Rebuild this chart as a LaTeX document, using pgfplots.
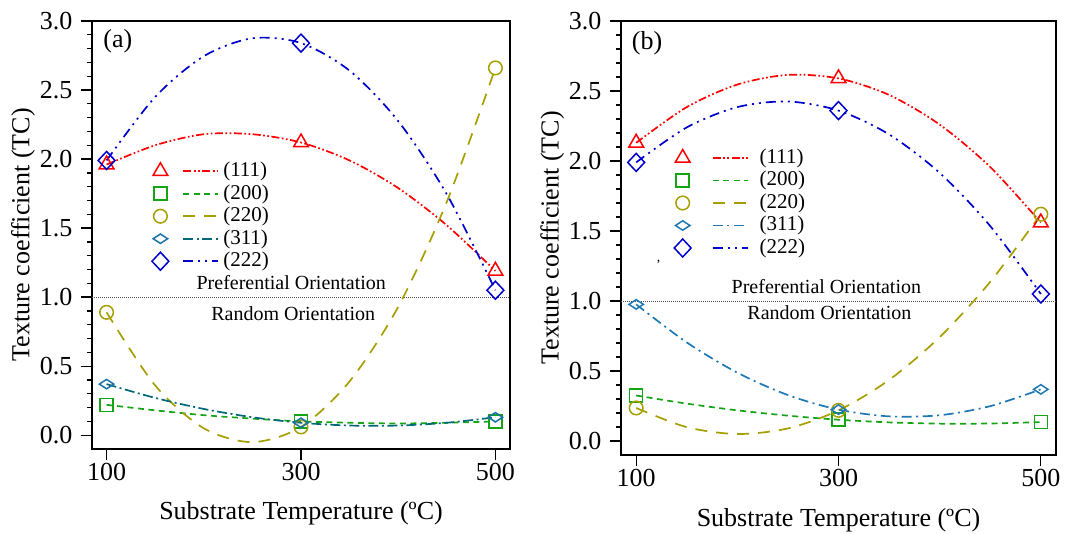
\documentclass[border=0pt]{standalone}
\usepackage{fontspec}
\setmainfont{Liberation Serif}
\usepackage{pgfplots}
\pgfplotsset{compat=1.18}

\definecolor{cRed}{RGB}{255,0,0}
\definecolor{cGreen}{RGB}{20,165,20}
\definecolor{cOlive}{RGB}{165,160,0}
\definecolor{cTealA}{RGB}{0,105,120}
\definecolor{cTealM}{RGB}{25,115,170}
\definecolor{cTealB}{RGB}{30,120,180}
\definecolor{cBlue}{RGB}{0,0,205}

\pgfplotsset{
  tcaxis/.style={
    scale only axis,
    xmin=85, xmax=515, ymin=-0.1, ymax=3.0,
    xtick={100,300,500},
    ytick={0,0.5,1,1.5,2,2.5,3},
    minor y tick num=4,
    tick align=outside,
    xtick pos=left, ytick pos=left,
    major tick length=11pt, minor tick length=5pt,
    every tick/.style={line width=1.3pt, black},
    axis line style={line width=1.5pt},
    /pgf/number format/assume math mode=true,
    ticklabel style={font=\fontsize{26}{30}\selectfont},
    yticklabel style={xshift=-5pt, /pgf/number format/.cd, fixed, fixed zerofill, precision=1},
    label style={font=\fontsize{26}{30}\selectfont},
    xlabel={Substrate Temperature (ºC)},
    ylabel={Texture coefficient (TC)},
    legend cell align=left,
    legend style={draw=none, fill=none, inner sep=0pt,
      font=\fontsize{21}{24}\selectfont, row sep=1.5pt,
      nodes={inner sep=0pt, text height=16pt, text depth=5pt}},
    every axis plot/.append style={line width=1.7pt},
  },
  s111/.style={color=cRed, smooth, mark=triangle, mark size=8.5pt, mark indices={1,5,9},
    mark options={solid, line width=1.5pt},
    dash pattern=on 8pt off 2.5pt on 1.7pt off 2.5pt on 1.7pt off 2.5pt},
  s200/.style={color=cGreen, smooth, mark=square, mark size=6.5pt, mark indices={1,5,9},
    mark options={solid, line width=1.5pt}, dash pattern=on 6pt off 4.5pt},
  s220/.style={color=cOlive, smooth, mark=o, mark size=6.8pt, mark indices={1,5,9},
    mark options={solid, line width=1.5pt}, dash pattern=on 12pt off 9pt},
  s222/.style={color=cBlue, smooth, mark=diamond, mark size=9pt, mark indices={1,5,9},
    mark options={solid, xscale=1.25, line width=1.5pt},
    dash pattern=on 10pt off 5pt on 2pt off 5pt on 2pt off 5pt},
}

\begin{document}
\begin{tikzpicture}
\path[use as bounding box] (0,0) rectangle (1071pt,533pt);

% ---------- (a) ----------
\begin{axis}[tcaxis,
  at={(92pt,84pt)}, anchor=south west,
  width=418pt, height=428pt,
  ylabel style={at={(axis description cs:-0.165,0.5)}, anchor=center},
  xlabel style={at={(axis description cs:0.5,-0.15)}, anchor=center},
  legend style={at={(rel axis cs:0.143,0.674)}, anchor=north west, column sep=4pt},
  legend image code/.code={
    \draw[#1] plot coordinates {(0pt,0pt)};
    \draw[#1, mark=none] (23pt,0pt) -- (58pt,0pt);
  },
]
\addplot[forget plot, line width=0.9pt, color=black!70, dash pattern=on 1pt off 1pt]
  coordinates {(85,1) (515,1)};

\addplot[s111] coordinates {(100,1.96)(150,2.10)(200,2.18)(250,2.18)(300,2.12)(350,1.99)(400,1.79)(450,1.52)(500,1.19)};
\addplot[s200] coordinates {(100,0.22)(150,0.18)(200,0.145)(250,0.12)(300,0.10)(350,0.09)(400,0.085)(450,0.09)(500,0.10)};
\addplot[s220] coordinates {(100,0.89)(150,0.36)(200,0.05)(250,-0.05)(300,0.06)(350,0.39)(400,0.93)(450,1.69)(500,2.66)};
\addplot[color=cTealA, smooth, mark=diamond, mark size=4.7pt, mark indices={1,5,9},
  mark options={solid, xscale=2.05, color=cTealM, line width=1.5pt},
  dash pattern=on 10pt off 3.5pt on 2pt off 3.5pt]
  coordinates {(100,0.37)(150,0.27)(200,0.19)(250,0.13)(300,0.09)(350,0.07)(400,0.07)(450,0.09)(500,0.13)};
\addplot[s222] coordinates {(100,1.99)(150,2.45)(200,2.745)(250,2.875)(300,2.84)(350,2.64)(400,2.275)(450,1.745)(500,1.05)};
\legend{(111),(200),(220),(311),(222)}

\node[font=\fontsize{26}{28}\selectfont] at (rel axis cs:0.062,0.953) {(a)};
\node[font=\fontsize{20}{22}\selectfont] at (axis cs:290,1.105) {Preferential Orientation};
\node[font=\fontsize{20}{22}\selectfont] at (axis cs:292,0.88) {Random Orientation};
\end{axis}

% ---------- (b) ----------
\begin{axis}[tcaxis,
  at={(621pt,78pt)}, anchor=south west,
  width=435pt, height=434pt,
  ylabel style={at={(axis description cs:-0.158,0.5)}, anchor=center},
  xlabel style={at={(axis description cs:0.5,-0.15)}, anchor=center},
  legend style={at={(rel axis cs:0.122,0.709)}, anchor=north west, column sep=11pt},
  legend image code/.code={
    \draw[#1] plot coordinates {(0pt,0pt)};
    \draw[#1, mark=none] (30pt,0pt) -- (65pt,0pt);
  },
]
\addplot[forget plot, line width=0.9pt, color=black!70, dash pattern=on 1pt off 1pt]
  coordinates {(85,1) (515,1)};

\addplot[s111] coordinates {(100,2.13)(150,2.385)(200,2.546)(250,2.615)(300,2.59)(350,2.472)(400,2.26)(450,1.957)(500,1.56)};
\addplot[s200] coordinates {(100,0.325)(150,0.267)(200,0.219)(250,0.181)(300,0.152)(350,0.133)(400,0.124)(450,0.125)(500,0.135)};
\addplot[s220] coordinates {(100,0.236)(150,0.099)(200,0.05)(250,0.09)(300,0.219)(350,0.436)(400,0.742)(450,1.137)(500,1.62)};
\addplot[color=cTealB, smooth, mark=diamond, mark size=4.7pt, mark indices={1,5,9},
  mark options={solid, xscale=2.05, line width=1.5pt},
  dash pattern=on 10pt off 4.5pt on 2pt off 4.5pt]
  coordinates {(100,0.976)(150,0.704)(200,0.488)(250,0.328)(300,0.224)(350,0.176)(400,0.184)(450,0.249)(500,0.369)};
\addplot[s222] coordinates {(100,1.99)(150,2.24)(200,2.385)(250,2.425)(300,2.36)(350,2.19)(400,1.915)(450,1.535)(500,1.05)};
\legend{(111),(200),(220),(311),(222)}

\node[font=\fontsize{26}{28}\selectfont] at (rel axis cs:0.06,0.949) {(b)};
\node[font=\fontsize{20}{22}\selectfont] at (axis cs:288,1.10) {Preferential Orientation};
\node[font=\fontsize{20}{22}\selectfont] at (axis cs:291,0.92) {Random Orientation};
\node[font=\fontsize{14}{16}\selectfont] at (axis cs:122,1.26) {'};
\end{axis}
\end{tikzpicture}
\end{document}
